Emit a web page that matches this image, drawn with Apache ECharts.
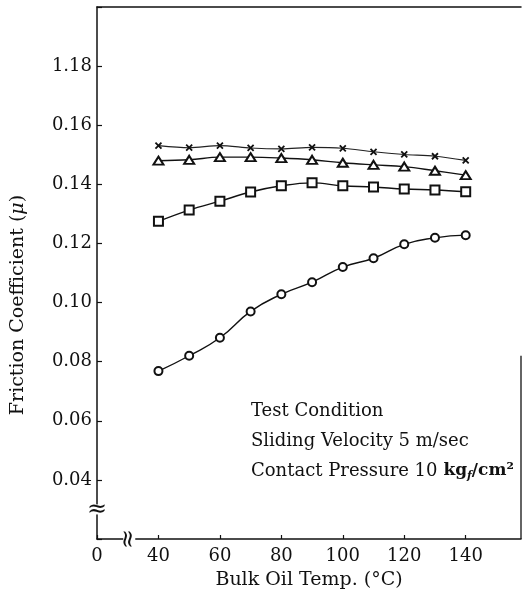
<!DOCTYPE html>
<html>
<head>
<meta charset="utf-8">
<script src="https://cdn.jsdelivr.net/npm/echarts@6/dist/echarts.min.js"></script>
<style>
html,body{margin:0;padding:0;background:#fff;}
#c{width:531px;height:597px;}
</style>
</head>
<body>
<div id="c"></div>
<script>
// ---- data ----
const temps = [40, 50, 60, 70, 80, 90, 100, 110, 120, 130, 140];
const circleVals   = [0.0768, 0.0820, 0.0881, 0.0970, 0.1028, 0.1069, 0.1120, 0.1150, 0.1197, 0.1219, 0.1228];
const squareVals   = [0.1275, 0.1313, 0.1343, 0.1374, 0.1395, 0.1405, 0.1395, 0.1391, 0.1384, 0.1381, 0.1375];
const triangleVals = [0.1480, 0.1483, 0.1492, 0.1492, 0.1489, 0.1483, 0.1473, 0.1466, 0.1460, 0.1446, 0.1431];
const crossVals    = [0.1531, 0.1524, 0.1531, 0.1523, 0.1520, 0.1525, 0.1522, 0.1510, 0.1501, 0.1495, 0.1481];
const yTickValues = [0.04, 0.06, 0.08, 0.10, 0.12, 0.14, 0.16, 0.18];
const yTickLabels = ['0.04', '0.06', '0.08', '0.10', '0.12', '0.14', '0.16', '1.18'];
const xTickValues = [20, 40, 60, 80, 100, 120, 140];
const xTickLabels = ['0', '40', '60', '80', '100', '120', '140'];
const noteLines = ['Test Condition', 'Sliding Velocity 5 m/sec'];

const FONT = '"DejaVu Serif", "Liberation Serif", serif';
const pair = vals => temps.map((t, i) => [t, vals[i]]);
const findLabel = (vals, labels, v) => {
  const i = vals.findIndex(t => Math.abs(t - v) < 1e-6);
  return i >= 0 ? labels[i] : '';
};

const chart = echarts.init(document.getElementById('c'), null, {renderer: 'canvas'});

const lineBase = {
  type: 'line', smooth: 0.5, showSymbol: true,
  lineStyle: {color: '#111', width: 1.4},
  itemStyle: {color: '#111', borderColor: '#111', borderWidth: 1.5},
  emphasis: {disabled: true}, z: 3
};

chart.setOption({
  animation: false,
  backgroundColor: '#fff',
  grid: {left: 97, right: 10, top: 7, bottom: 58},
  xAxis: [{
    type: 'value', min: 20, max: 158, interval: 20,
    name: 'Bulk Oil Temp. (°C)', nameLocation: 'middle', nameGap: 32,
    nameTextStyle: {fontFamily: FONT, fontSize: 19, color: '#111'},
    axisLine: {show: true, lineStyle: {color: '#111', width: 1.5}},
    axisTick: {show: true, inside: true, length: 4, lineStyle: {color: '#111', width: 1.2}},
    axisLabel: {fontFamily: FONT, fontSize: 18, color: '#111', margin: 8, showMaxLabel: false,
      formatter: v => findLabel(xTickValues, xTickLabels, v)},
    splitLine: {show: false}
  }, {
    type: 'value', position: 'top', min: 20, max: 158,
    axisLine: {show: true, lineStyle: {color: '#111', width: 1.5}},
    axisTick: {show: false}, axisLabel: {show: false}, splitLine: {show: false}
  }],
  yAxis: [{
    type: 'value', min: 0.02, max: 0.20, interval: 0.02,
    axisLine: {show: true, lineStyle: {color: '#111', width: 1.5}},
    axisTick: {show: true, inside: true, length: 5, lineStyle: {color: '#111', width: 1.2}},
    axisLabel: {fontFamily: FONT, fontSize: 18, color: '#111', margin: 5,
      formatter: v => findLabel(yTickValues, yTickLabels, v)},
    splitLine: {show: false}
  }],
  series: [
    Object.assign({}, lineBase, {name: 'circle', data: pair(circleVals), symbol: 'emptyCircle', symbolSize: 8}),
    Object.assign({}, lineBase, {name: 'square', data: pair(squareVals), symbol: 'emptyRect', symbolSize: 9, smooth: 0.4}),
    Object.assign({}, lineBase, {name: 'triangle', data: pair(triangleVals), symbol: 'emptyTriangle', symbolSize: [10, 8], smooth: 0.4}),
    Object.assign({}, lineBase, {name: 'cross', data: pair(crossVals), symbol: 'path://M0,0L10,10M10,0L0,10',
      symbolSize: 6, smooth: 0.3, lineStyle: {color: '#222', width: 1.1},
      itemStyle: {color: '#111', borderColor: '#111', borderWidth: 1.8}})
  ]
});

// decorations: axis breaks, partial right frame, labels
const p = (x, y) => chart.convertToPixel({gridIndex: 0}, [x, y]);
const yBreak = p(20, 0.0300);
const xBreak = p(30.5, 0.02);
const rightBottom = p(158, 0.02);
const rightTop = p(158, 0.082);

chart.setOption({
  graphic: [
    {type: 'rect', shape: {x: yBreak[0] - 5, y: yBreak[1] - 5, width: 10, height: 10}, style: {fill: '#fff'}, z: 10},
    {type: 'text', x: yBreak[0], y: yBreak[1], z: 11,
      style: {text: '≈', fontFamily: FONT, fontSize: 24, fill: '#111', align: 'center', verticalAlign: 'middle'}},
    {type: 'rect', shape: {x: xBreak[0] - 6, y: xBreak[1] - 4, width: 12, height: 8}, style: {fill: '#fff'}, z: 10},
    {type: 'text', x: xBreak[0], y: xBreak[1], rotation: Math.PI / 2, z: 11,
      style: {text: '≈', fontFamily: FONT, fontSize: 24, fill: '#111', align: 'center', verticalAlign: 'middle'}},
    {type: 'line', shape: {x1: rightBottom[0], y1: rightBottom[1], x2: rightTop[0], y2: rightTop[1]},
      style: {stroke: '#111', lineWidth: 1.3}, z: 5},
    {type: 'text', x: 18, y: 305, rotation: Math.PI / 2, z: 5,
      style: {text: 'Friction Coefficient ({i|μ})', fontFamily: FONT, fontSize: 19, fill: '#111',
        align: 'center', verticalAlign: 'middle',
        rich: {i: {fontFamily: FONT, fontSize: 19, fontStyle: 'italic', fill: '#111'}}}},
    {type: 'text', x: 251, y: 396, z: 5,
      style: {text: noteLines[0] + '\n' + noteLines[1] + '\nContact Pressure 10{b| kg}{sub|f}{b|/cm²}',
        fontFamily: FONT, fontSize: 18, lineHeight: 30, fill: '#111', align: 'left', verticalAlign: 'top',
        rich: {
          b: {fontFamily: FONT, fontSize: 17, fontWeight: 'bold', fill: '#111'},
          sub: {fontFamily: FONT, fontSize: 11, fontWeight: 'bold', fontStyle: 'italic', fill: '#111', padding: [10, 0, 0, 0]}
        }}}
  ]
});
</script>
</body>
</html>
